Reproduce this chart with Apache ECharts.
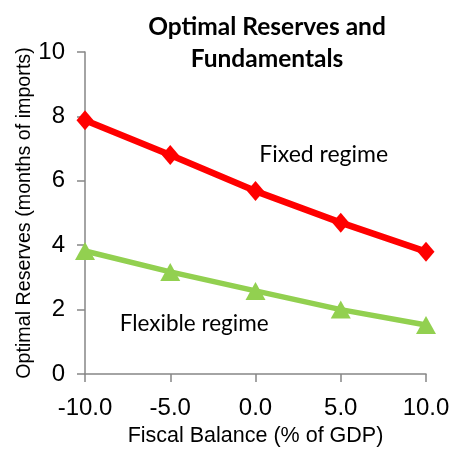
<!DOCTYPE html>
<html><head><meta charset="utf-8">
<script src="https://cdn.jsdelivr.net/npm/echarts@6/dist/echarts.min.js"></script>
<style>html,body{margin:0;padding:0;background:#fff}#c{width:454px;height:450px}</style>
</head><body><div id="c"></div>
<script>
const xValues = [-10, -5, 0, 5, 10];
const fixedRegime = [7.88, 6.8, 5.68, 4.7, 3.8];
const flexibleRegime = [3.82, 3.17, 2.58, 2.0, 1.52];
const chartTitle = ['Optimal Reserves and', 'Fundamentals'];

const chart = echarts.init(document.getElementById('c'));
const axisColor = '#868686';
chart.setOption({
  animation: false,
  title: {
    text: chartTitle.join('\n'),
    left: 262, top: 6, textAlign: 'center',
    textStyle: { fontFamily: 'Lato', fontWeight: 'bold', fontSize: 24.5, color: '#000', lineHeight: 32 }
  },
  grid: { left: 85, right: 28, top: 52, bottom: 76, outerBoundsMode: 'none' },
  xAxis: {
    type: 'value', min: -10, max: 10, interval: 5,
    name: 'Fiscal Balance (% of GDP)', nameLocation: 'middle', nameGap: 51, nameMoveOverlap: false,
    nameTextStyle: { fontFamily: 'Liberation Sans', fontSize: 21.5, color: '#000' },
    axisLine: { onZero: false, lineStyle: { color: axisColor, width: 1.5 } },
    axisTick: { show: true, inside: false, length: 8, lineStyle: { color: axisColor, width: 1.5 } },
    splitLine: { show: false },
    axisLabel: { fontFamily: 'Liberation Sans', fontSize: 24, color: '#000', margin: 22, formatter: v => v.toFixed(1) }
  },
  yAxis: {
    type: 'value', min: 0, max: 10, interval: 2,
    name: 'Optimal Reserves (months of imports)', nameLocation: 'middle', nameGap: 50, nameMoveOverlap: false,
    nameTextStyle: { fontFamily: 'Liberation Sans', fontSize: 19.7, color: '#000' },
    axisLine: { show: true, onZero: false, lineStyle: { color: axisColor, width: 1.5 } },
    axisTick: { show: true, inside: false, length: 8, lineStyle: { color: axisColor, width: 1.5 } },
    splitLine: { show: false },
    axisLabel: { fontFamily: 'Liberation Sans', fontSize: 24, color: '#000', margin: 20 }
  },
  series: [
    {
      name: 'Fixed regime', type: 'line',
      data: xValues.map((x, i) => [x, fixedRegime[i]]),
      symbol: 'diamond', symbolSize: [17, 20], showAllSymbol: true,
      lineStyle: { color: '#FF0000', width: 6.5 },
      itemStyle: { color: '#FF0000' },
      markPoint: {
        symbol: 'circle', symbolSize: 0,
        data: [{ coord: [4.0, 6.8], value: 'Fixed regime' }],
        label: { show: true, formatter: 'Fixed regime', fontFamily: 'Lato', fontSize: 23, color: '#000', position: 'inside' }
      }
    },
    {
      name: 'Flexible regime', type: 'line',
      data: xValues.map((x, i) => [x, flexibleRegime[i]]),
      symbol: 'triangle', symbolSize: [20, 18], showAllSymbol: true,
      lineStyle: { color: '#92D050', width: 5.5 },
      itemStyle: { color: '#92D050' },
      markPoint: {
        symbol: 'circle', symbolSize: 0,
        data: [{ coord: [-3.6, 1.55], value: 'Flexible regime' }],
        label: { show: true, formatter: 'Flexible regime', fontFamily: 'Lato', fontSize: 22.5, color: '#000', position: 'inside' }
      }
    }
  ]
});
</script></body></html>
